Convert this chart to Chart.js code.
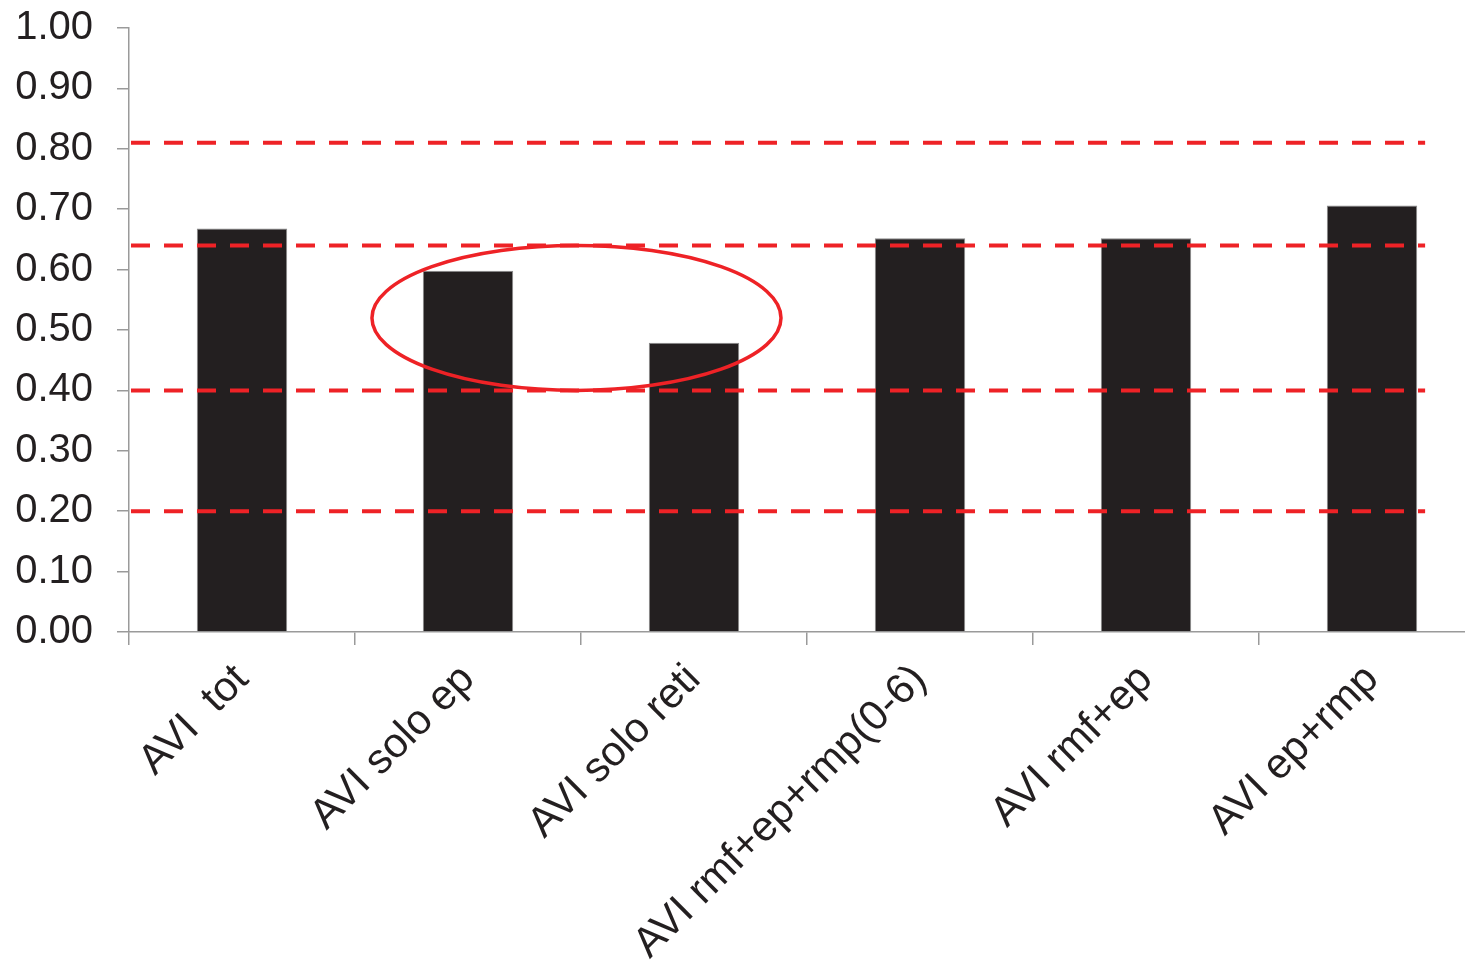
<!DOCTYPE html>
<html>
<head>
<meta charset="utf-8">
<script src="https://cdn.jsdelivr.net/npm/chart.js@4/dist/chart.umd.min.js"></script>
<style>
  html, body { margin: 0; padding: 0; background: #fff; overflow: hidden; }
  #wrap { width: 1485px; height: 980px; margin-top: -20px; }
</style>
</head>
<body>
<div id="wrap"><canvas id="avi"></canvas></div>
<script>
// categories and values
var labels = ['AVI  tot', 'AVI solo ep', 'AVI solo reti', 'AVI rmf+ep+rmp(0-6)', 'AVI rmf+ep', 'AVI ep+rmp'];
var values = [0.668, 0.598, 0.479, 0.652, 0.652, 0.706];
var yTicks = [0, 0.1, 0.2, 0.3, 0.4, 0.5, 0.6, 0.7, 0.8, 0.9, 1.0];

// red dashed reference levels
var refLevels = [0.81, 0.64, 0.40, 0.20];
var refEndIndex = 5.235;

// ellipse around the two low bars (x in category index, y in value)
var ringCenter = [1.48, 0.52];
var ringRadius = [0.905, 0.12];

var red = '#ee2226';
var ink = '#231f20';
var axisGrey = '#9a9a9a';

var overlay = {
    id: 'overlay',
    afterDatasetsDraw: function(chart) {
        var ctx = chart.ctx;
        var xs = chart.scales.x, ys = chart.scales.y;
        var left = chart.chartArea.left + 2;
        var right = xs.getPixelForValue(refEndIndex);

        ctx.save();
        ctx.strokeStyle = red;
        ctx.lineWidth = 4;
        ctx.setLineDash([19, 14]);
        refLevels.forEach(function(v) {
            var y = ys.getPixelForValue(v);
            ctx.beginPath();
            ctx.moveTo(left, y);
            ctx.lineTo(right, y);
            ctx.stroke();
        });

        // ellipse
        ctx.setLineDash([]);
        ctx.lineWidth = 3.5;
        var cx = xs.getPixelForValue(ringCenter[0]);
        var cy = ys.getPixelForValue(ringCenter[1]);
        var rx = Math.abs(xs.getPixelForValue(ringCenter[0] + ringRadius[0]) - cx);
        var ry = Math.abs(ys.getPixelForValue(ringCenter[1] + ringRadius[1]) - cy);
        ctx.beginPath();
        ctx.ellipse(cx, cy, rx, ry, 0, 0, Math.PI * 2);
        ctx.stroke();
        ctx.restore();
    }
};

new Chart(document.getElementById('avi'), {
    type: 'bar',
    data: {
        labels: labels,
        datasets: [{
            data: values,
            backgroundColor: ink,
            borderColor: '#8a8a8a',
            borderWidth: 1,
            categoryPercentage: 1,
            barPercentage: 0.4
        }]
    },
    options: {
        responsive: true,
        maintainAspectRatio: false,
        animation: false,
        layout: { padding: { top: 7, right: 0, bottom: 0, left: 0 } },
        plugins: {
            legend: { display: false },
            tooltip: { enabled: false }
        },
        scales: {
            x: {
                offset: true,
                grid: {
                    offset: true,
                    drawOnChartArea: false,
                    color: axisGrey,
                    lineWidth: 1.5,
                    tickLength: 13
                },
                border: { color: axisGrey, width: 1.5 },
                ticks: {
                    color: ink,
                    font: { family: 'Liberation Sans, Arial, sans-serif', size: 42 },
                    minRotation: 45,
                    maxRotation: 45,
                    autoSkip: false,
                    padding: 10
                },
                afterFit: function(scale) { scale.height = 328; }
            },
            y: {
                min: 0,
                max: 1,
                afterBuildTicks: function(scale) {
                    scale.ticks = yTicks.map(function(v) { return { value: v }; });
                },
                grid: {
                    drawOnChartArea: false,
                    color: axisGrey,
                    lineWidth: 1.5,
                    tickLength: 12
                },
                border: { color: axisGrey, width: 1.5 },
                ticks: {
                    color: ink,
                    font: { family: 'Liberation Sans, Arial, sans-serif', size: 40 },
                    padding: 24,
                    callback: function(v) { return Number(v).toFixed(2); }
                },
                afterFit: function(scale) { scale.width = 129; }
            }
        }
    },
    plugins: [overlay]
});
</script>
</body>
</html>
